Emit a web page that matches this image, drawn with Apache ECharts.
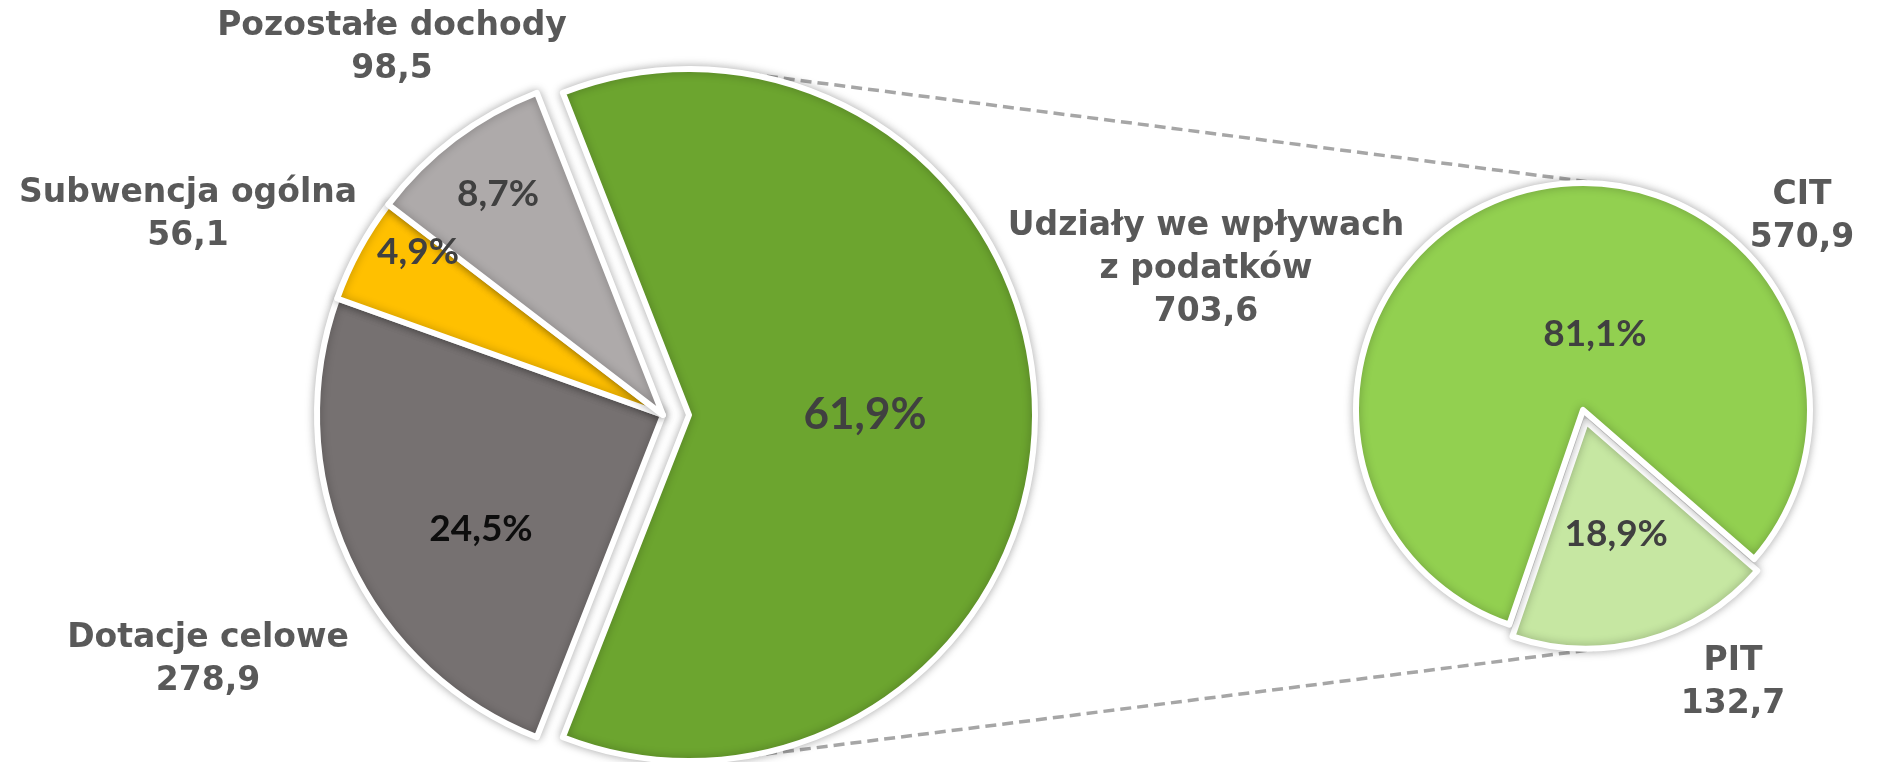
<!DOCTYPE html>
<html><head><meta charset="utf-8">
<script src="https://cdn.jsdelivr.net/npm/echarts@6/dist/echarts.min.js"></script>
<style>html,body{margin:0;padding:0;background:#fff}#c{width:1898px;height:762px}</style>
</head><body><div id="c"></div>
<script>
// ---- data ----
const mainCategories = ['Udziały we wpływach\nz podatków', 'Dotacje celowe', 'Subwencja ogólna', 'Pozostałe dochody'];
const mainValues = [703.6, 278.9, 56.1, 98.5];
const subCategories = ['PIT', 'CIT'];
const subValues = [132.7, 570.9];

// ---- styles / layout ----
const mainColors = ['#6CA52F', '#767171', '#FFC000', '#AEAAAA'];
const subColors = ['#C6E7A2', '#92D050'];
const mainPctColors = ['#404040', '#0D0D0D', '#404040', '#404040'];
const M = {cx: 663, cy: 415, r: 346, offset: 26};
const S = {cx: 1583, cy: 410, r: 227, offset: 12, bisector: -75};
const mainPctPos = [[853, 415], [481, 529], [418, 252], [498, 194]];
const subPctPos = [[1623, 563], [1595, 334]];
const mainNamePos = [[1206, 269], [208, 660], [188, 215], [392, 48]];
const subNamePos = [[1733, 683], [1802, 217]];
const NAME_FONT = '"DejaVu Sans", sans-serif';
const PCT_FONT = 'Lato, "Open Sans", sans-serif';
const TXT = '#595959';

const sum = a => a.reduce((s, v) => s + v, 0);
const fmt = v => v.toFixed(1).replace('.', ',');
const mainTotal = sum(mainValues), subTotal = sum(subValues);
const mainStart = 180 * mainValues[0] / mainTotal;
const subStart = S.bisector + 180 * subValues[0] / subTotal;

// connector lines: external common tangents between the exploded slice circle and the second pie
const rad = d => d * Math.PI / 180;
const greenC = [M.cx + M.offset, M.cy];
const subC = [S.cx, S.cy];
const pitC = [S.cx + S.offset * Math.cos(rad(S.bisector)), S.cy - S.offset * Math.sin(rad(S.bisector))];
function commonTangent(C1, r1, C2, r2, upper) {
  const dx = C2[0] - C1[0], dy = C2[1] - C1[1];
  const d = Math.hypot(dx, dy), phi = Math.atan2(dy, dx), th = Math.acos((r1 - r2) / d);
  const a = upper ? phi - th : phi + th;
  const n = [Math.cos(a), Math.sin(a)];
  return [[C1[0] + r1 * n[0], C1[1] + r1 * n[1]], [C2[0] + r2 * n[0], C2[1] + r2 * n[1]]];
}
const topLine = commonTangent(greenC, M.r, subC, S.r, true);
const botLine = commonTangent(greenC, M.r, pitC, S.r, false);
const dashStyle = {stroke: '#A6A6A6', lineWidth: 3.5, lineDash: [11, 6]};

const pieBase = {
  type: 'pie', clockwise: true, animation: false, silent: true,
  emphasis: {disabled: true}, labelLine: {show: false}, avoidLabelOverlap: false
};
const sliceStyle = {borderColor: '#FFFFFF', borderWidth: 6, shadowBlur: 10, shadowColor: 'rgba(0,0,0,0.28)'};

function pctSeries(cats, vals, colors, pctColors, pos, geo, start, selIdx, bigIdx) {
  return Object.assign({}, pieBase, {
    center: [geo.cx, geo.cy], radius: geo.r, startAngle: start, z: 3,
    selectedMode: 'multiple', selectedOffset: geo.offset,
    itemStyle: sliceStyle,
    data: vals.map((v, i) => ({
      name: cats[i], value: v, selected: i === selIdx,
      itemStyle: {color: colors[i]},
      label: {color: pctColors[i], fontSize: i === bigIdx ? 44 : 37}
    })),
    label: {show: true, position: 'inside', fontFamily: PCT_FONT, fontWeight: 'bold',
      formatter: p => p.percent.toFixed(1).replace('.', ',') + '%'},
    labelLayout: p => ({x: pos[p.dataIndex][0], y: pos[p.dataIndex][1], align: 'center', verticalAlign: 'middle'})
  });
}
function nameSeries(cats, vals, pos, geo, start) {
  return Object.assign({}, pieBase, {
    center: [geo.cx, geo.cy], radius: geo.r, startAngle: start, z: 5,
    itemStyle: {color: 'rgba(0,0,0,0)', borderWidth: 0},
    data: vals.map((v, i) => ({name: cats[i], value: v})),
    label: {show: true, position: 'inside', fontFamily: NAME_FONT, fontWeight: 'bold', fontSize: 33,
      lineHeight: 43, color: TXT, align: 'center',
      formatter: p => p.name + '\n' + fmt(p.value)},
    labelLayout: p => ({x: pos[p.dataIndex][0], y: pos[p.dataIndex][1], align: 'center', verticalAlign: 'middle'})
  });
}

const chart = echarts.init(document.getElementById('c'), null, {renderer: 'canvas'});
chart.setOption({
  backgroundColor: '#FFFFFF',
  animation: false,
  graphic: [
    {type: 'line', z: 0, zlevel: 0, shape: {x1: topLine[0][0], y1: topLine[0][1], x2: topLine[1][0], y2: topLine[1][1]}, style: dashStyle},
    {type: 'line', z: 0, zlevel: 0, shape: {x1: botLine[0][0], y1: botLine[0][1], x2: botLine[1][0], y2: botLine[1][1]}, style: dashStyle}
  ],
  series: [
    pctSeries(mainCategories, mainValues, mainColors, mainPctColors, mainPctPos, M, mainStart, 0, 0),
    pctSeries(subCategories, subValues, subColors, ['#404040', '#404040'], subPctPos, S, subStart, 0, -1),
    nameSeries(mainCategories, mainValues, mainNamePos, M, mainStart),
    nameSeries(subCategories, subValues, subNamePos, S, subStart)
  ]
});
</script></body></html>
